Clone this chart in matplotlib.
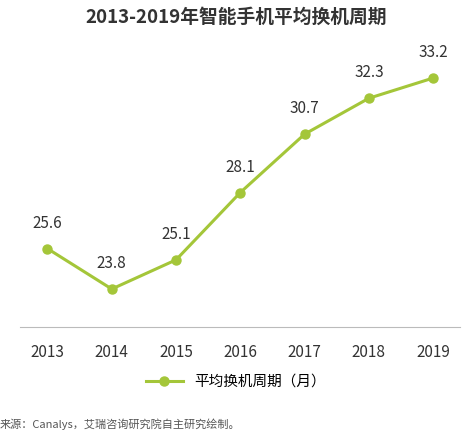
import matplotlib.pyplot as plt
from matplotlib.lines import Line2D

plt.rcParams['font.family'] = ['Noto Sans CJK SC', 'DejaVu Sans']

years = ['2013', '2014', '2015', '2016', '2017', '2018', '2019']
cycle = [25.6, 23.8, 25.1, 28.1, 30.7, 32.3, 33.2]
green = '#a4c639'

fig = plt.figure(figsize=(4.72, 4.38), dpi=100)
ax = fig.add_axes([0.042, 0.253, 0.933, 0.656])
x = range(len(years))
ax.plot(x, cycle, color=green, lw=2.2, marker='o', ms=6.5)
for i, v in zip(x, cycle):
    ax.text(i, v + 0.75, f'{v}', ha='center', va='bottom', fontsize=11, color='#333333')

ax.set_xlim(-0.43, 6.42)
ax.set_ylim(22.1, 34.9)
ax.set_xticks(list(x))
ax.set_xticklabels(years, fontsize=11, color='#333333')
ax.set_yticks([])
ax.tick_params(axis='x', length=0, pad=12)
for s in ['top', 'right', 'left']:
    ax.spines[s].set_visible(False)
ax.spines['bottom'].set_color('#bbbbbb')

fig.text(0.5, 0.96, '2013-2019年智能手机平均换机周期', ha='center', va='center',
         fontsize=13.5, fontweight='bold', color='#333333')

h = Line2D([], [], color=green, lw=2.2, marker='o', ms=6.5)
fig.legend([h], ['平均换机周期（月）'], loc='center', bbox_to_anchor=(0.5, 0.128),
           frameon=False, fontsize=10.5, handlelength=2.5)

fig.text(0.0, 0.032, '来源：Canalys，艾瑞咨询研究院自主研究绘制。', fontsize=8,
         color='#555555', va='center')

fig.savefig('out.png')
